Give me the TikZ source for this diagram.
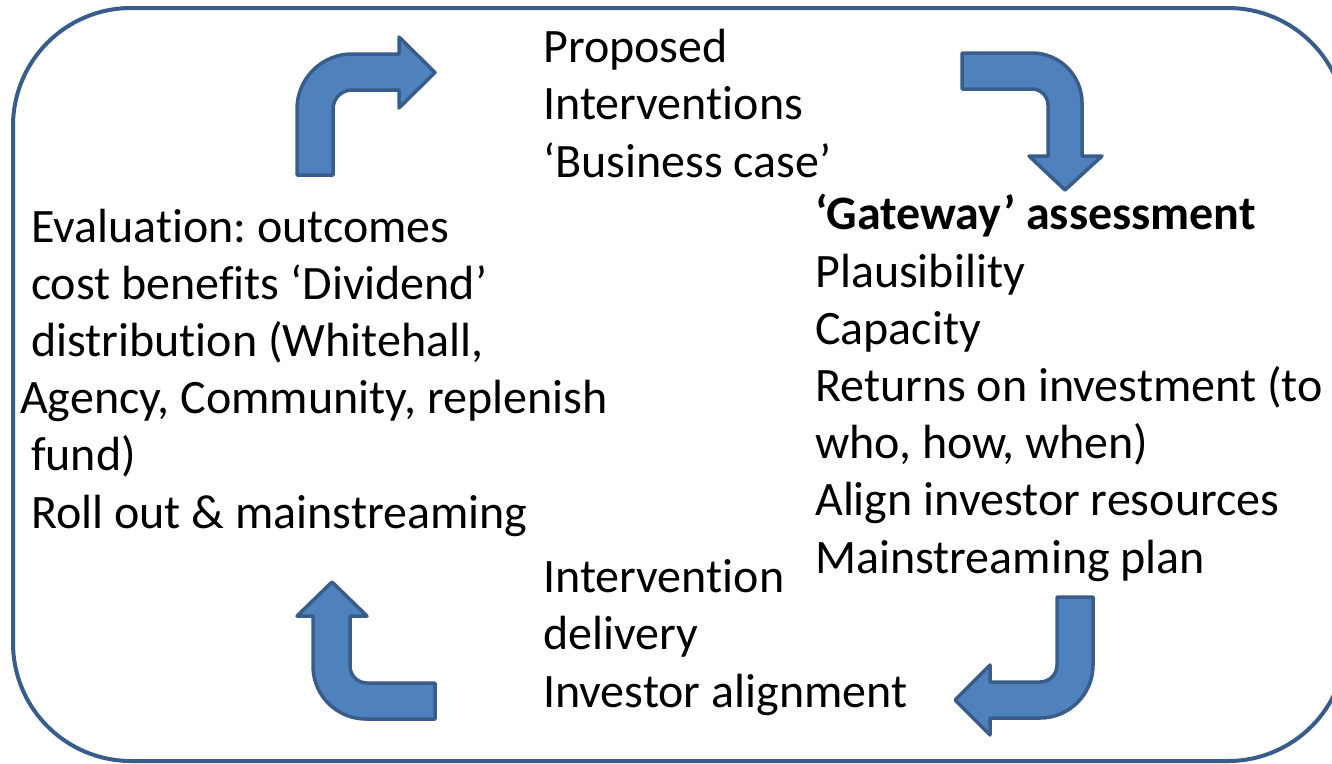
\documentclass[tikz,border=0pt]{standalone}
\usepackage{fontspec}
\setmainfont{Carlito}[Ligatures=NoCommon]
\frenchspacing
\definecolor{arrowfill}{HTML}{4F81BD}
\definecolor{arrowline}{HTML}{385D8A}
\begin{document}
\begin{tikzpicture}[x=1pt,y=-1pt,
  bentarrow/.style={fill=arrowfill,draw=arrowline,line width=3.5pt,line join=round},
  frame/.style={draw=arrowline,line width=4pt,rounded corners=118pt},
  txt/.style={anchor=base west,inner sep=0pt,align=left,font=\fontsize{48}{57.2}\selectfont\frenchspacing}]
\useasboundingbox (0,0) rectangle (1332,763);
\fill[white] (0,0) rectangle (1332,763);
\draw[frame] (13,8) rectangle (1346,761);

% arrow 1: up then right
\draw[bentarrow] (297,175) -- (297,109) .. controls (297,78.6) and (321.6,54) .. (352,54)
  -- (399,54) -- (399,37) -- (435,72.5) -- (399,108) -- (399,90) -- (352,90)
  .. controls (341.5,90) and (333,98.5) .. (333,109) -- (333,175) -- cycle;

% arrow 2: right then down
\draw[bentarrow] (962,53) -- (1032,53) .. controls (1059.6,53) and (1082,75.4) .. (1082,103)
  -- (1082,156) -- (1102,156) -- (1065,190) -- (1029,156) -- (1048,156) -- (1048,105)
  .. controls (1048,96.2) and (1040.8,89) .. (1032,89) -- (962,89) -- cycle;

% arrow 3: down then left
\draw[bentarrow] (1093,597) -- (1093,665) .. controls (1093,694.3) and (1069.3,718) .. (1040,718)
  -- (990,718) -- (990,735) -- (955,700) -- (990,665) -- (990,682) -- (1040,682)
  .. controls (1049.4,682) and (1057,674.4) .. (1057,665) -- (1057,597) -- cycle;

% arrow 4: left then up
\draw[bentarrow] (435,719) -- (366,719) .. controls (336.7,719) and (313,695.3) .. (313,666)
  -- (313,616) -- (297,616) -- (332,582) -- (367,616) -- (350,616) -- (350,666)
  .. controls (350,675.4) and (357.6,683) .. (367,683) -- (435,683) -- cycle;

% anchor base = baseline of the last line
\node[txt] (proposed) at (543,177) {Proposed\\Interventions\\‘Business case’};
\node[txt] (gateway) at (815,573) {\textbf{‘Gateway’ assessment}\\Plausibility\\Capacity\\Returns on investment (to\\who, how, when)\\Align investor resources\\Mainstreaming plan};
\node[txt] (evaluation) at (20,528) {\hspace*{0.226em}Evaluation: outcomes\\\hspace*{0.226em}cost benefits ‘Dividend’\\\hspace*{0.226em}distribution (Whitehall,\\Agency, Community, replenish\\\hspace*{0.226em}fund)\\\hspace*{0.226em}Roll out \& mainstreaming};
\node[txt] (delivery) at (543,707) {Intervention\\delivery\\Investor alignment};
\end{tikzpicture}
\end{document}
